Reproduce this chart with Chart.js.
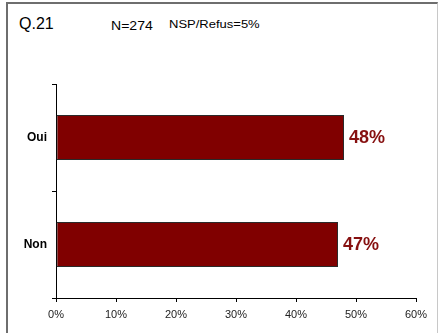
<!DOCTYPE html>
<html>
<head>
<meta charset="utf-8">
<script src="https://cdn.jsdelivr.net/npm/chart.js@4.4.1/dist/chart.umd.min.js"></script>
<style>
    html, body { margin: 0; padding: 0; background: #fff; }
    body { width: 441px; height: 333px; position: relative; overflow: hidden; font-family: Arial, 'Liberation Sans', sans-serif; }
    #frame {
        position: absolute; left: 6px; top: 2px; width: 432px; height: 340px;
        border-left: 2px solid #6e6e6e; border-top: 2px solid #6e6e6e; border-right: 1px solid #c8c8c8;
        box-sizing: border-box;
    }
    .hdr { position: absolute; white-space: nowrap; color: #000; transform-origin: left top; }
    #q  { left: 19px;  top: 15.5px; font-size: 16px; line-height: 16px; }
    #n  { left: 111px; top: 19.5px; font-size: 12px; line-height: 12px; transform: scaleX(1.17); }
    #ns { left: 169px; top: 20px;   font-size: 10px; line-height: 10px; transform: scaleX(1.3); }
    #wrap { position: absolute; left: 0; top: 0; width: 441px; height: 333px; }
</style>
</head>
<body>
<div id="frame"></div>
<div class="hdr" id="q">Q.21</div>
<div class="hdr" id="n">N=274</div>
<div class="hdr" id="ns">NSP/Refus=5%</div>
<div id="wrap"><canvas id="chart" width="441" height="333"></canvas></div>

<script>
const categories = ['Oui', 'Non'];
const values = [48, 47];
const xTicks = [0, 10, 20, 30, 40, 50, 60];

const barFill  = '#800000';
const labelRed = '#861010';

// value labels to the right of each bar
const valueLabels = {
    id: 'valueLabels',
    afterDatasetsDraw(chart) {
        const ctx = chart.ctx;
        const meta = chart.getDatasetMeta(0);
        ctx.save();
        ctx.font = "bold 18px Arial, 'Liberation Sans', sans-serif";
        ctx.fillStyle = labelRed;
        ctx.textAlign = 'left';
        ctx.textBaseline = 'middle';
        meta.data.forEach((bar, i) => {
            ctx.fillText(values[i] + '%', bar.x + 5, bar.y + 1);
        });
        ctx.restore();
    }
};

new Chart(document.getElementById('chart'), {
    type: 'bar',
    data: {
        labels: categories,
        datasets: [{
            data: values,
            backgroundColor: barFill,
            borderColor: '#2a2a2a',
            borderWidth: 1,
            borderSkipped: false,
            barPercentage: 0.42,
            categoryPercentage: 1
        }]
    },
    options: {
        indexAxis: 'y',
        responsive: false,
        animation: false,
        layout: { padding: { left: 0, right: 25, top: 84, bottom: 0 } },
        plugins: {
            legend: { display: false },
            tooltip: { enabled: false }
        },
        scales: {
            x: {
                min: 0,
                max: 60,
                afterBuildTicks: scale => { scale.ticks = xTicks.map(v => ({ value: v })); },
                afterFit: scale => { scale.height = 35; },
                grid: { drawOnChartArea: false, drawTicks: true, tickLength: 4, color: '#000' },
                border: { display: true, color: '#000', width: 1 },
                ticks: {
                    color: '#222',
                    padding: 6,
                    font: { family: "Arial, 'Liberation Sans', sans-serif", size: 11 },
                    callback: v => v + '%'
                }
            },
            y: {
                afterFit: scale => { scale.width = 56; },
                grid: { drawOnChartArea: false, drawTicks: true, tickLength: 4, color: '#000', offset: true },
                border: { display: true, color: '#000', width: 1 },
                ticks: {
                    color: '#000',
                    padding: 5,
                    font: { family: "Arial, 'Liberation Sans', sans-serif", size: 12, weight: 'bold' }
                }
            }
        }
    },
    plugins: [valueLabels]
});
</script>
</body>
</html>
